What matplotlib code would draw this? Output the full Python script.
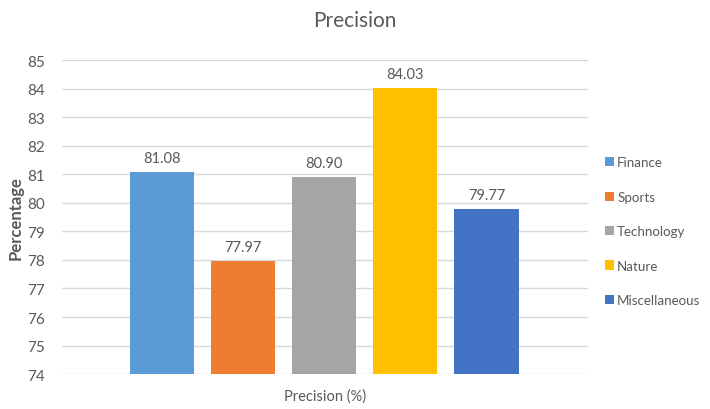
import numpy as np
import matplotlib.pyplot as plt

plt.rcParams['font.family'] = ['Lato', 'DejaVu Sans']

categories = ['Finance', 'Sports', 'Technology', 'Nature', 'Miscellaneous']
precision = [81.08, 77.97, 80.90, 84.03, 79.77]
colors = ['#5B9BD5', '#ED7D31', '#A5A5A5', '#FFC000', '#4472C4']
yticks = list(range(74, 86))

text_color = '#595959'

fig = plt.figure(figsize=(7.1, 4.1), dpi=100)
ax = fig.add_axes([0.087, 0.085, 0.741, 0.766])

x = np.arange(len(categories))
bars = ax.bar(x, [v - 74 for v in precision], bottom=74, width=0.79,
              color=colors, label=categories, zorder=3)

for xi, v in zip(x, precision):
    ax.text(xi, v + 0.25, f'{v:.2f}', ha='center', va='bottom',
            fontsize=10.5, color=text_color)

ax.set_ylim(74, 85)
ax.set_xlim(-1.235, 5.25)
ax.set_yticks(yticks)
ax.set_xticks([])
ax.tick_params(axis='y', length=0, labelsize=11, labelcolor=text_color, pad=12)
ax.grid(axis='y', color='#D9D9D9', linewidth=1, zorder=0)
for side in ['top', 'right', 'left', 'bottom']:
    ax.spines[side].set_visible(False)

ax.set_xlabel('Precision (%)', fontsize=10.5, color=text_color, labelpad=10)
ax.set_ylabel('Percentage', fontsize=12, fontweight='bold', color=text_color, labelpad=3)
fig.text(0.5, 0.948, 'Precision', ha='center', va='center', fontsize=15, color=text_color)

ax.legend(handles=bars.patches, labels=categories, loc='center left',
          bbox_to_anchor=(1.01, 0.455), frameon=False, fontsize=9.6,
          labelcolor=text_color, handlelength=0.7, handleheight=0.7,
          handletextpad=0.2, labelspacing=1.68)

fig.savefig('out.png', dpi=100)
